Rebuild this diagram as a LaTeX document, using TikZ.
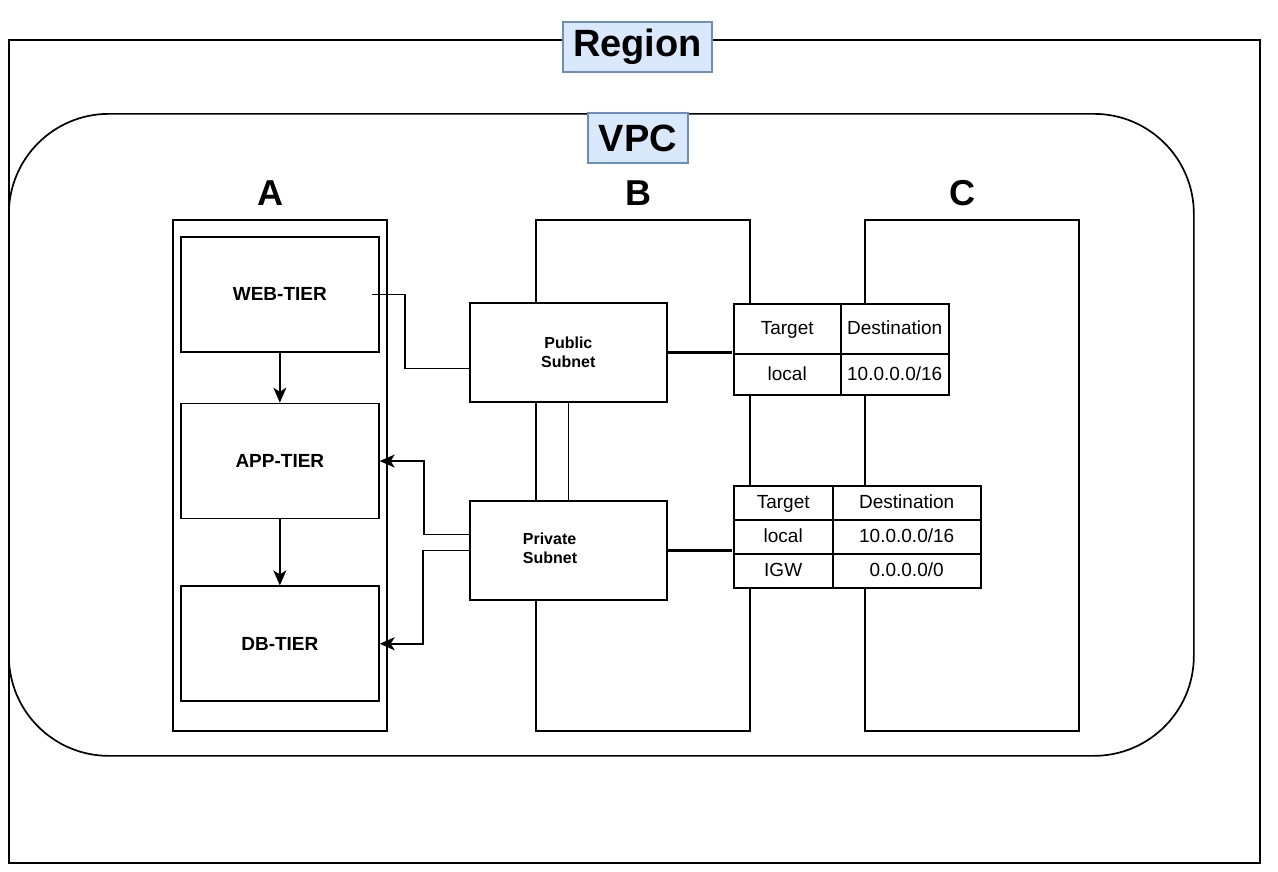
\documentclass[tikz,border=0pt]{standalone}
\usepackage{fontspec}
\setmainfont{Liberation Sans}
\usetikzlibrary{matrix,positioning,arrows.meta}
\definecolor{lblfill}{HTML}{DAE8FC}
\definecolor{lbldraw}{HTML}{6C8EBF}
\newcommand{\fsz}[2]{\fontsize{#1}{#2}\selectfont}

\begin{document}
\begin{tikzpicture}[x=1pt,y=-1pt,line width=1.7pt,
  box/.style={draw,fill=white,inner sep=0pt},
  title/.style={draw=lbldraw,fill=lblfill,line width=1.5pt,inner sep=0pt,minimum height=50pt,font=\bfseries\fsz{38}{44}},
  letter/.style={font=\bfseries\fsz{36}{42}},
  column/.style={draw,minimum width=214pt,minimum height=511pt,anchor=north west},
  tier/.style={box,minimum width=198pt,minimum height=115pt,anchor=north west,font=\bfseries\fsz{19}{23}},
  subnet/.style={box,minimum width=197pt,minimum height=99pt,anchor=north west,align=center,font=\bfseries\fsz{16}{19}},
  cell/.style={draw,fill=white,inner sep=0pt,anchor=center,text height=14pt,text depth=2pt,font=\fsz{19}{23}},
  arr/.style={-{Stealth[length=15pt,width=13pt,inset=4pt]}},
  bus/.style={line width=3.2pt}]
\useasboundingbox (0,0) rectangle (1278,871);

\node[draw,minimum width=1251pt,minimum height=823pt,anchor=north west] (region) at (8,39) {};
\node[title,minimum width=149pt] (regionLbl) at (637.5,47) {Region};
\node[draw,rounded corners=100pt,minimum width=1185pt,minimum height=642pt,anchor=north west] (vpc) at (8,113) {};
\node[title,minimum width=100pt] (vpcLbl) at (638,138) {VPC};

\node[column] (colA) at (172,219) {};
\node[column] (colB) at (535,219) {};
\node[column] (colC) at (864,219) {};
\node[letter] (lblA) at (270,193) {A};
\node[letter] (lblB) at (638,193) {B};
\node[letter] (lblC) at (962,193) {C};

\node[tier] (web) at (180,236) {WEB-TIER};
\node[tier,below=50pt of web] (app) {APP-TIER};
\node[tier,below=66pt of app] (db) {DB-TIER};

\node[subnet] (pub) at (469,302) {Public\\Subnet};
\node[subnet] (priv) at (469,500) {};
\node[align=left,font=\bfseries\fsz{16}{19}] (privTxt) at (550,548) {Private\\Subnet};

\matrix (rtPub) [matrix of nodes,anchor=north west,inner sep=0pt,column sep=-1.7pt,row sep=-1.7pt,nodes={cell},
  column 1/.style={nodes={minimum width=107pt}},column 2/.style={nodes={minimum width=108pt}},
  row 1/.style={nodes={minimum height=50pt}},row 2/.style={nodes={minimum height=41pt}}] at (732,302)
{
  Target & Destination \\
  local  & 10.0.0.0/16 \\};
\matrix (rtPriv) [matrix of nodes,anchor=north west,inner sep=0pt,column sep=-1.7pt,row sep=-1.7pt,nodes={cell,minimum height=34pt},
  column 1/.style={nodes={minimum width=99pt}},column 2/.style={nodes={minimum width=148pt}}] at (732,484)
{
  Target & Destination \\
  local  & 10.0.0.0/16 \\
  IGW    & 0.0.0.0/0   \\};

\draw[arr] (web) -- (app);
\draw[arr] (app) -- (db);
\draw ([xshift=-8pt]web.east) -- ++(33,0) |- ([yshift=-16pt]pub.west);
\draw (pub) -- (priv);
\draw[arr] ([yshift=16pt]priv.west) -- ++(-45,0) |- (app.east);
\draw[arr] (priv.west) -- ++(-46,0) |- (db.east);
\draw[bus] (pub.east) -- (pub.east -| rtPub.west);
\draw[bus] (priv.east) -- (priv.east -| rtPriv.west);

\end{tikzpicture}
\end{document}
